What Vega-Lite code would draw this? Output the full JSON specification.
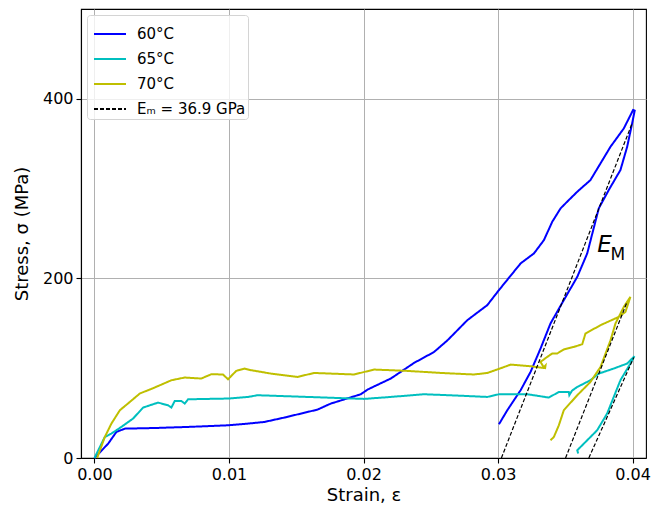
{
  "$schema": "https://vega.github.io/schema/vega-lite/v6.json",
  "width": 565,
  "height": 449,
  "autosize": {"type": "none"},
  "padding": {"left": 81, "top": 9, "right": 21, "bottom": 51},
  "background": "white",
  "config": {
    "font": "DejaVu Sans",
    "view": {"stroke": "black", "strokeWidth": 1.1},
    "axis": {
      "domainColor": "black", "domainWidth": 1.1,
      "tickColor": "black", "tickWidth": 1.1, "tickSize": 5,
      "labelFont": "DejaVu Sans", "labelFontSize": 16, "labelColor": "black", "labelPadding": 3,
      "labelFlush": false, "labelOverlap": false,
      "titleFont": "DejaVu Sans", "titleFontSize": 18, "titleFontWeight": "normal", "titleColor": "black",
      "gridColor": "#b0b0b0", "gridWidth": 1
    },
    "legend": {
      "orient": "top-left", "offset": 6, "padding": 2,
      "fillColor": "rgba(255,255,255,0.8)", "strokeColor": "#d4d4d4", "cornerRadius": 3,
      "labelFont": "DejaVu Sans", "labelFontSize": 15, "labelColor": "black", "labelOffset": 10,
      "symbolType": "stroke", "symbolSize": 1024, "symbolStrokeWidth": 2, "rowPadding": -11,
      "symbolOffset": 4
    }
  },
  "datasets": {
    "curves": [
      {"kind":"curve","series":"60°C","seg":"b","i":0,"x":0,"y":0},
      {"kind":"curve","series":"60°C","seg":"b","i":1,"x":0.00102,"y":16},
      {"kind":"curve","series":"60°C","seg":"b","i":2,"x":0.00163,"y":29},
      {"kind":"curve","series":"60°C","seg":"b","i":3,"x":0.00226,"y":32.7},
      {"kind":"curve","series":"60°C","seg":"b","i":4,"x":0.00448,"y":33.4},
      {"kind":"curve","series":"60°C","seg":"b","i":5,"x":0.00696,"y":34.6},
      {"kind":"curve","series":"60°C","seg":"b","i":6,"x":0.00993,"y":36.4},
      {"kind":"curve","series":"60°C","seg":"b","i":7,"x":0.01141,"y":38.3},
      {"kind":"curve","series":"60°C","seg":"b","i":8,"x":0.01262,"y":40.1},
      {"kind":"curve","series":"60°C","seg":"b","i":9,"x":0.01411,"y":45},
      {"kind":"curve","series":"60°C","seg":"b","i":10,"x":0.01658,"y":53.9},
      {"kind":"curve","series":"60°C","seg":"b","i":11,"x":0.01757,"y":60.6},
      {"kind":"curve","series":"60°C","seg":"b","i":12,"x":0.0198,"y":71},
      {"kind":"curve","series":"60°C","seg":"b","i":13,"x":0.0203,"y":76.2},
      {"kind":"curve","series":"60°C","seg":"b","i":14,"x":0.02203,"y":88.5},
      {"kind":"curve","series":"60°C","seg":"b","i":15,"x":0.02376,"y":105.9},
      {"kind":"curve","series":"60°C","seg":"b","i":16,"x":0.02524,"y":118},
      {"kind":"curve","series":"60°C","seg":"b","i":17,"x":0.02624,"y":131},
      {"kind":"curve","series":"60°C","seg":"b","i":18,"x":0.02772,"y":153.5},
      {"kind":"curve","series":"60°C","seg":"b","i":19,"x":0.0292,"y":170.2},
      {"kind":"curve","series":"60°C","seg":"b","i":20,"x":0.03007,"y":187},
      {"kind":"curve","series":"60°C","seg":"b","i":21,"x":0.03168,"y":216.7},
      {"kind":"curve","series":"60°C","seg":"b","i":22,"x":0.03267,"y":227.8},
      {"kind":"curve","series":"60°C","seg":"b","i":23,"x":0.03341,"y":242.6},
      {"kind":"curve","series":"60°C","seg":"b","i":24,"x":0.03403,"y":263},
      {"kind":"curve","series":"60°C","seg":"b","i":25,"x":0.03465,"y":278},
      {"kind":"curve","series":"60°C","seg":"b","i":26,"x":0.03526,"y":287.2},
      {"kind":"curve","series":"60°C","seg":"b","i":27,"x":0.03589,"y":296.5},
      {"kind":"curve","series":"60°C","seg":"b","i":28,"x":0.03687,"y":309.5},
      {"kind":"curve","series":"60°C","seg":"b","i":29,"x":0.03836,"y":346.6},
      {"kind":"curve","series":"60°C","seg":"b","i":30,"x":0.03935,"y":367},
      {"kind":"curve","series":"60°C","seg":"b","i":31,"x":0.04004,"y":387.5},
      {"kind":"curve","series":"60°C","seg":"b","i":32,"x":0.04016,"y":386.8},
      {"kind":"curve","series":"60°C","seg":"b","i":33,"x":0.03997,"y":372.7},
      {"kind":"curve","series":"60°C","seg":"b","i":34,"x":0.0396,"y":346.6},
      {"kind":"curve","series":"60°C","seg":"b","i":35,"x":0.0391,"y":320.7},
      {"kind":"curve","series":"60°C","seg":"b","i":36,"x":0.03823,"y":298.4},
      {"kind":"curve","series":"60°C","seg":"b","i":37,"x":0.03749,"y":278},
      {"kind":"curve","series":"60°C","seg":"b","i":38,"x":0.03663,"y":227.8},
      {"kind":"curve","series":"60°C","seg":"b","i":39,"x":0.03589,"y":201.7},
      {"kind":"curve","series":"60°C","seg":"b","i":40,"x":0.03489,"y":175.8},
      {"kind":"curve","series":"60°C","seg":"b","i":41,"x":0.0339,"y":149.8},
      {"kind":"curve","series":"60°C","seg":"b","i":42,"x":0.03316,"y":121.9},
      {"kind":"curve","series":"60°C","seg":"b","i":43,"x":0.03242,"y":95.9},
      {"kind":"curve","series":"60°C","seg":"b","i":44,"x":0.03168,"y":75.5},
      {"kind":"curve","series":"60°C","seg":"b","i":45,"x":0.03069,"y":53.2},
      {"kind":"curve","series":"60°C","seg":"b","i":46,"x":0.03007,"y":37.6},

      {"kind":"curve","series":"65°C","seg":"c","i":0,"x":0,"y":0},
      {"kind":"curve","series":"65°C","seg":"c","i":1,"x":0.00077,"y":23.4},
      {"kind":"curve","series":"65°C","seg":"c","i":2,"x":0.00126,"y":27.2},
      {"kind":"curve","series":"65°C","seg":"c","i":3,"x":0.002,"y":34.6},
      {"kind":"curve","series":"65°C","seg":"c","i":4,"x":0.00287,"y":43.9},
      {"kind":"curve","series":"65°C","seg":"c","i":5,"x":0.00362,"y":56.2},
      {"kind":"curve","series":"65°C","seg":"c","i":6,"x":0.00473,"y":61.7},
      {"kind":"curve","series":"65°C","seg":"c","i":7,"x":0.00547,"y":58.7},
      {"kind":"curve","series":"65°C","seg":"c","i":8,"x":0.00572,"y":56.2},
      {"kind":"curve","series":"65°C","seg":"c","i":9,"x":0.00597,"y":63.5},
      {"kind":"curve","series":"65°C","seg":"c","i":10,"x":0.00646,"y":63.5},
      {"kind":"curve","series":"65°C","seg":"c","i":11,"x":0.00671,"y":60.6},
      {"kind":"curve","series":"65°C","seg":"c","i":12,"x":0.00696,"y":65.4},
      {"kind":"curve","series":"65°C","seg":"c","i":13,"x":0.00993,"y":66.2},
      {"kind":"curve","series":"65°C","seg":"c","i":14,"x":0.01141,"y":68},
      {"kind":"curve","series":"65°C","seg":"c","i":15,"x":0.01213,"y":69.9},
      {"kind":"curve","series":"65°C","seg":"c","i":16,"x":0.01584,"y":68},
      {"kind":"curve","series":"65°C","seg":"c","i":17,"x":0.02004,"y":65.8},
      {"kind":"curve","series":"65°C","seg":"c","i":18,"x":0.02203,"y":68},
      {"kind":"curve","series":"65°C","seg":"c","i":19,"x":0.0245,"y":71},
      {"kind":"curve","series":"65°C","seg":"c","i":20,"x":0.02698,"y":69.5},
      {"kind":"curve","series":"65°C","seg":"c","i":21,"x":0.0292,"y":68},
      {"kind":"curve","series":"65°C","seg":"c","i":22,"x":0.03007,"y":71},
      {"kind":"curve","series":"65°C","seg":"c","i":23,"x":0.03218,"y":71},
      {"kind":"curve","series":"65°C","seg":"c","i":24,"x":0.03378,"y":67.3},
      {"kind":"curve","series":"65°C","seg":"c","i":25,"x":0.03452,"y":73.6},
      {"kind":"curve","series":"65°C","seg":"c","i":26,"x":0.03526,"y":73.6},
      {"kind":"curve","series":"65°C","seg":"c","i":27,"x":0.0353,"y":70},
      {"kind":"curve","series":"65°C","seg":"c","i":28,"x":0.0355,"y":75},
      {"kind":"curve","series":"65°C","seg":"c","i":29,"x":0.03589,"y":79.1},
      {"kind":"curve","series":"65°C","seg":"c","i":30,"x":0.03687,"y":86.6},
      {"kind":"curve","series":"65°C","seg":"c","i":31,"x":0.03749,"y":94},
      {"kind":"curve","series":"65°C","seg":"c","i":32,"x":0.0386,"y":99.6},
      {"kind":"curve","series":"65°C","seg":"c","i":33,"x":0.0396,"y":105.2},
      {"kind":"curve","series":"65°C","seg":"c","i":34,"x":0.04014,"y":113.4},
      {"kind":"curve","series":"65°C","seg":"c","i":35,"x":0.03984,"y":105.2},
      {"kind":"curve","series":"65°C","seg":"c","i":36,"x":0.0391,"y":86.6},
      {"kind":"curve","series":"65°C","seg":"c","i":37,"x":0.03811,"y":49.5},
      {"kind":"curve","series":"65°C","seg":"c","i":38,"x":0.03737,"y":30.9},
      {"kind":"curve","series":"65°C","seg":"c","i":39,"x":0.03638,"y":16},
      {"kind":"curve","series":"65°C","seg":"c","i":40,"x":0.03589,"y":8.6},
      {"kind":"curve","series":"65°C","seg":"c","i":41,"x":0.03596,"y":4.9},

      {"kind":"curve","series":"70°C","seg":"o","i":0,"x":0.0002,"y":0},
      {"kind":"curve","series":"70°C","seg":"o","i":1,"x":0.00077,"y":23.4},
      {"kind":"curve","series":"70°C","seg":"o","i":2,"x":0.00126,"y":38.3},
      {"kind":"curve","series":"70°C","seg":"o","i":3,"x":0.00189,"y":53.2},
      {"kind":"curve","series":"70°C","seg":"o","i":4,"x":0.00263,"y":62.4},
      {"kind":"curve","series":"70°C","seg":"o","i":5,"x":0.00337,"y":71.8},
      {"kind":"curve","series":"70°C","seg":"o","i":6,"x":0.00448,"y":78.5},
      {"kind":"curve","series":"70°C","seg":"o","i":7,"x":0.00572,"y":86.6},
      {"kind":"curve","series":"70°C","seg":"o","i":8,"x":0.00671,"y":89.6},
      {"kind":"curve","series":"70°C","seg":"o","i":9,"x":0.00794,"y":88.5},
      {"kind":"curve","series":"70°C","seg":"o","i":10,"x":0.00869,"y":93.3},
      {"kind":"curve","series":"70°C","seg":"o","i":11,"x":0.00955,"y":93},
      {"kind":"curve","series":"70°C","seg":"o","i":12,"x":0.00993,"y":87.7},
      {"kind":"curve","series":"70°C","seg":"o","i":13,"x":0.01054,"y":97},
      {"kind":"curve","series":"70°C","seg":"o","i":14,"x":0.01117,"y":99.6},
      {"kind":"curve","series":"70°C","seg":"o","i":15,"x":0.01163,"y":97.8},
      {"kind":"curve","series":"70°C","seg":"o","i":16,"x":0.01312,"y":94},
      {"kind":"curve","series":"70°C","seg":"o","i":17,"x":0.0151,"y":90.3},
      {"kind":"curve","series":"70°C","seg":"o","i":18,"x":0.01633,"y":94.7},
      {"kind":"curve","series":"70°C","seg":"o","i":19,"x":0.0193,"y":93},
      {"kind":"curve","series":"70°C","seg":"o","i":20,"x":0.02079,"y":98.5},
      {"kind":"curve","series":"70°C","seg":"o","i":21,"x":0.02327,"y":97},
      {"kind":"curve","series":"70°C","seg":"o","i":22,"x":0.02574,"y":94.7},
      {"kind":"curve","series":"70°C","seg":"o","i":23,"x":0.02821,"y":93},
      {"kind":"curve","series":"70°C","seg":"o","i":24,"x":0.0292,"y":94.7},
      {"kind":"curve","series":"70°C","seg":"o","i":25,"x":0.03014,"y":99.6},
      {"kind":"curve","series":"70°C","seg":"o","i":26,"x":0.03094,"y":104},
      {"kind":"curve","series":"70°C","seg":"o","i":27,"x":0.03242,"y":102.2},
      {"kind":"curve","series":"70°C","seg":"o","i":28,"x":0.0335,"y":100},
      {"kind":"curve","series":"70°C","seg":"o","i":29,"x":0.03353,"y":103},
      {"kind":"curve","series":"70°C","seg":"o","i":30,"x":0.0334,"y":101},
      {"kind":"curve","series":"70°C","seg":"o","i":31,"x":0.03316,"y":107},
      {"kind":"curve","series":"70°C","seg":"o","i":32,"x":0.03366,"y":112.6},
      {"kind":"curve","series":"70°C","seg":"o","i":33,"x":0.03403,"y":116.4},
      {"kind":"curve","series":"70°C","seg":"o","i":34,"x":0.0344,"y":116.4},
      {"kind":"curve","series":"70°C","seg":"o","i":35,"x":0.03489,"y":120.8},
      {"kind":"curve","series":"70°C","seg":"o","i":36,"x":0.03564,"y":123.7},
      {"kind":"curve","series":"70°C","seg":"o","i":37,"x":0.03626,"y":126.7},
      {"kind":"curve","series":"70°C","seg":"o","i":38,"x":0.0365,"y":138.6},
      {"kind":"curve","series":"70°C","seg":"o","i":39,"x":0.03762,"y":147.9},
      {"kind":"curve","series":"70°C","seg":"o","i":40,"x":0.03898,"y":157.2},
      {"kind":"curve","series":"70°C","seg":"o","i":41,"x":0.03947,"y":162.7},
      {"kind":"curve","series":"70°C","seg":"o","i":42,"x":0.03984,"y":179.4},
      {"kind":"curve","series":"70°C","seg":"o","i":43,"x":0.03935,"y":168.3},
      {"kind":"curve","series":"70°C","seg":"o","i":44,"x":0.03873,"y":149.8},
      {"kind":"curve","series":"70°C","seg":"o","i":45,"x":0.03836,"y":131},
      {"kind":"curve","series":"70°C","seg":"o","i":46,"x":0.03762,"y":101.4},
      {"kind":"curve","series":"70°C","seg":"o","i":47,"x":0.03687,"y":84.7},
      {"kind":"curve","series":"70°C","seg":"o","i":48,"x":0.03589,"y":69.9},
      {"kind":"curve","series":"70°C","seg":"o","i":49,"x":0.03489,"y":53.2},
      {"kind":"curve","series":"70°C","seg":"o","i":50,"x":0.03452,"y":36.4},
      {"kind":"curve","series":"70°C","seg":"o","i":51,"x":0.03415,"y":23.4},
      {"kind":"curve","series":"70°C","seg":"o","i":52,"x":0.0339,"y":19.7},

      {"kind":"fit","series":"Eₘ = 36.9 GPa","seg":"f1","i":0,"x":0.03025,"y":0},
      {"kind":"fit","series":"Eₘ = 36.9 GPa","seg":"f1","i":1,"x":0.03997,"y":372.7},
      {"kind":"fit","series":"Eₘ = 36.9 GPa","seg":"f2","i":0,"x":0.03502,"y":0},
      {"kind":"fit","series":"Eₘ = 36.9 GPa","seg":"f2","i":1,"x":0.0396,"y":174},
      {"kind":"fit","series":"Eₘ = 36.9 GPa","seg":"f3","i":0,"x":0.03675,"y":0},
      {"kind":"fit","series":"Eₘ = 36.9 GPa","seg":"f3","i":1,"x":0.04009,"y":112}
    ],
    "notes": [
      {"part":"E","x":0.03737,"y":229.6},
      {"part":"M","x":0.03836,"y":221}
    ]
  },
  "layer": [
    {
      "data": {"name": "curves"},
      "transform": [{"filter": "datum.kind == 'curve'"}],
      "mark": {"type": "line", "strokeWidth": 2},
      "encoding": {
        "x": {"field": "x", "type": "quantitative", "scale": {"domain": [-0.001, 0.041], "nice": false, "zero": false},
              "axis": {"title": "Strain, ε", "values": [0, 0.01, 0.02, 0.03, 0.04], "format": ".2f", "titlePadding": 4}},
        "y": {"field": "y", "type": "quantitative", "scale": {"domain": [0, 500], "nice": false},
              "axis": {"title": "Stress, σ (MPa)", "values": [0, 200, 400], "titlePadding": 11}},
        "color": {"field": "series", "type": "nominal",
                  "scale": {"domain": ["60°C", "65°C", "70°C", "Eₘ = 36.9 GPa"], "range": ["#0000ff", "#00bfbf", "#bfbf00", "#000000"]},
                  "legend": {"title": null}},
        "strokeDash": {"field": "series", "type": "nominal",
                  "scale": {"domain": ["60°C", "65°C", "70°C", "Eₘ = 36.9 GPa"], "range": [[1, 0], [1, 0], [1, 0], [4, 2]]},
                  "legend": {"title": null}},
        "detail": {"field": "seg"},
        "order": {"field": "i", "type": "quantitative"}
      }
    },
    {
      "data": {"name": "curves"},
      "transform": [{"filter": "datum.kind == 'fit'"}],
      "mark": {"type": "line", "strokeWidth": 1.2},
      "encoding": {
        "x": {"field": "x", "type": "quantitative"},
        "y": {"field": "y", "type": "quantitative"},
        "color": {"field": "series", "type": "nominal"},
        "strokeDash": {"field": "series", "type": "nominal"},
        "detail": {"field": "seg"},
        "order": {"field": "i", "type": "quantitative"}
      }
    },
    {
      "data": {"name": "notes"},
      "transform": [{"filter": "datum.part == 'E'"}],
      "mark": {"type": "text", "fontSize": 23, "fontStyle": "italic", "align": "left", "baseline": "alphabetic", "color": "black", "font": "DejaVu Sans"},
      "encoding": {
        "x": {"field": "x", "type": "quantitative"},
        "y": {"field": "y", "type": "quantitative"},
        "text": {"field": "part"}
      }
    },
    {
      "data": {"name": "notes"},
      "transform": [{"filter": "datum.part == 'M'"}],
      "mark": {"type": "text", "fontSize": 17, "align": "left", "baseline": "alphabetic", "color": "black", "font": "DejaVu Sans"},
      "encoding": {
        "x": {"field": "x", "type": "quantitative"},
        "y": {"field": "y", "type": "quantitative"},
        "text": {"field": "part"}
      }
    }
  ]
}
